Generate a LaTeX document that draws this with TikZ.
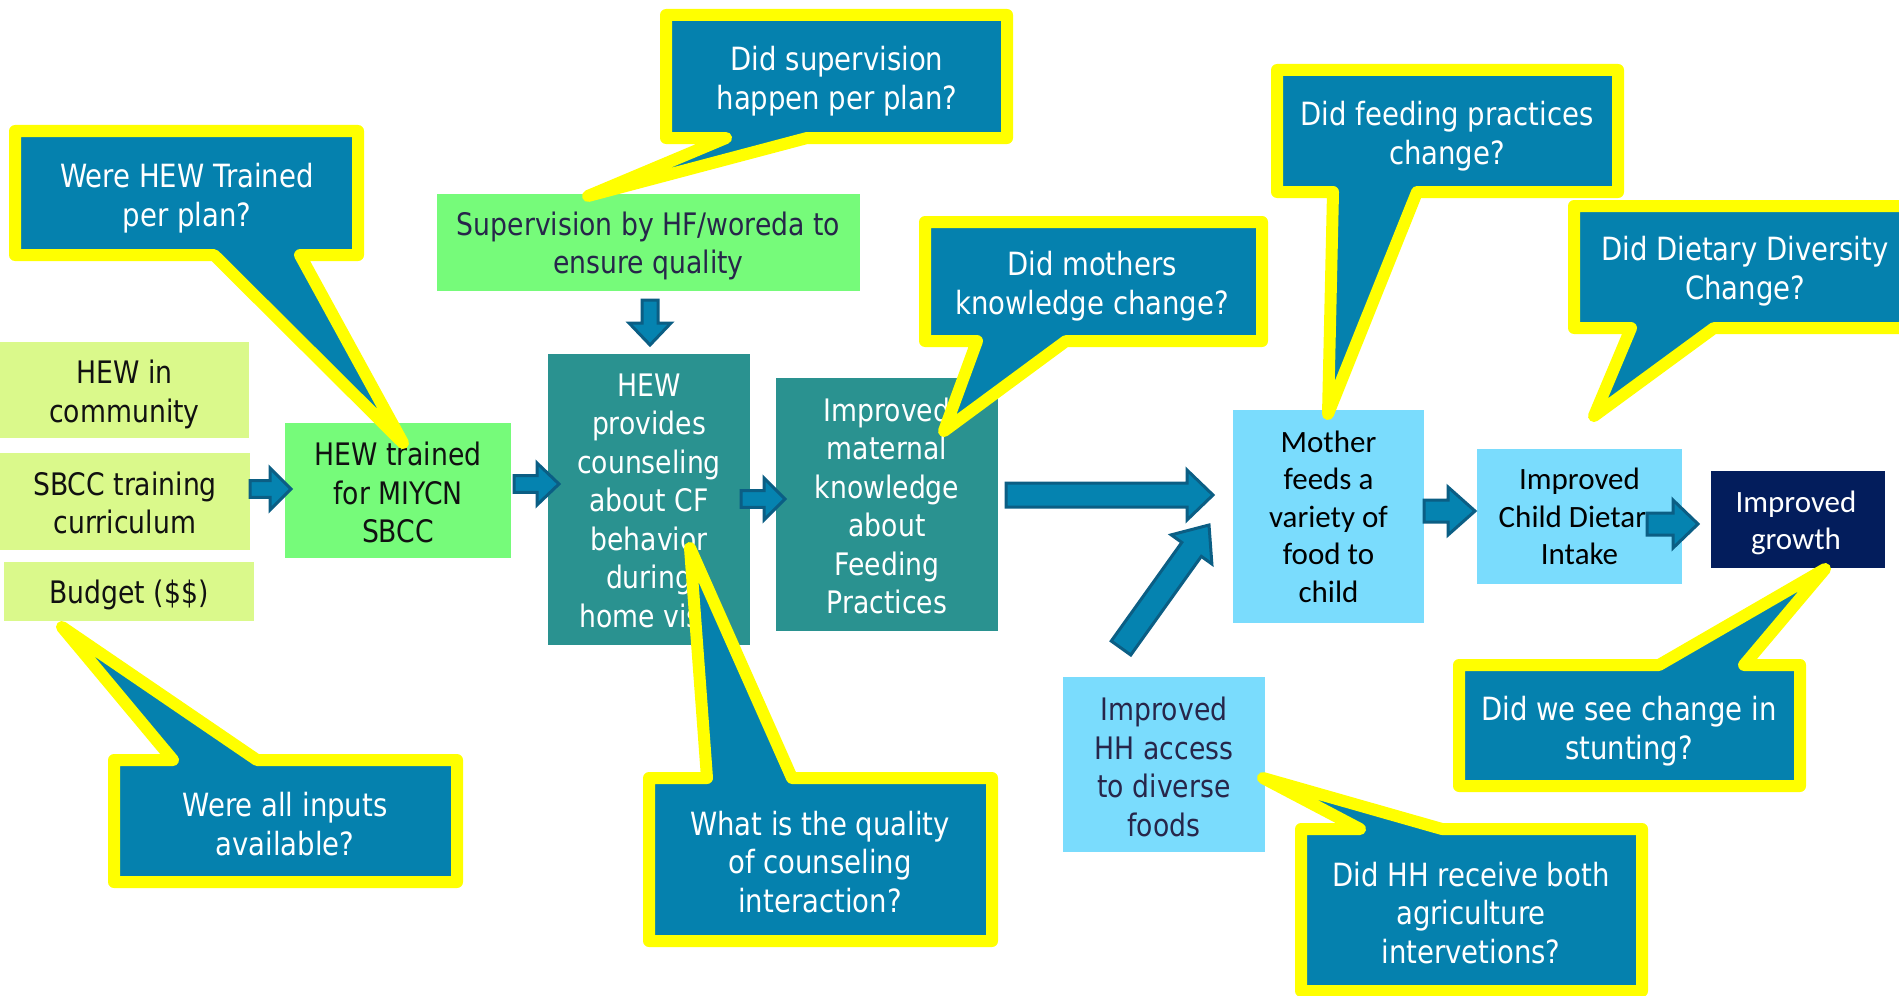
\documentclass[tikz,border=0pt]{standalone}
\usepackage{fontspec}
\setmainfont{DejaVu Sans}[FakeStretch=0.86]
\newfontfamily\calib{Carlito}
\usetikzlibrary{calc}

\definecolor{qblue}{HTML}{0581AE}
\definecolor{qyellow}{HTML}{FFFF00}
\definecolor{inputgreen}{HTML}{DAF98B}
\definecolor{actgreen}{HTML}{76FB7A}
\definecolor{outteal}{HTML}{2A9290}
\definecolor{skyblue}{HTML}{7ADCFD}
\definecolor{navybox}{HTML}{031D5C}
\definecolor{arrowfill}{HTML}{0583B0}
\definecolor{arrowline}{HTML}{0B5E84}
\definecolor{inktext}{HTML}{27264A}
\definecolor{blacktext}{HTML}{111111}

\newcommand\qfont{\fontsize{16}{19.3}\selectfont}
\newcommand\bfontt{\fontsize{15.5}{19.25}\selectfont}
\newcommand\cfont{\calib\fontsize{15.5}{18.75}\selectfont}

% block arrow from #1 to #2: shaft half-width, head half-width, head length
\newcommand\blockarrow[5]{%
  \coordinate (ba-hb) at ($(#2)!#5!(#1)$);
  \draw[blockarrow] ($(#1)!#3!90:(#2)$) -- ($(ba-hb)!#3!90:(#2)$)
    -- ($(ba-hb)!#4!90:(#2)$) -- (#2) -- ($(ba-hb)!#4!-90:(#2)$)
    -- ($(ba-hb)!#3!-90:(#2)$) -- ($(#1)!#3!-90:(#2)$) -- cycle;
}

\tikzset{
  callout/.style={fill=qblue, draw=qyellow, line width=6pt, line join=round},
  calltext/.style={text=white, align=center, font=\qfont, inner sep=0pt},
  box/.style={inner sep=0pt},
  boxtext/.style={inner sep=0pt, align=center, font=\bfontt},
  cboxtext/.style={inner sep=0pt, align=center, font=\cfont},
  blockarrow/.style={fill=arrowfill, draw=arrowline, line width=1.5pt, line join=miter},
}

\begin{document}
\begin{tikzpicture}[x=0.5pt, y=-0.5pt]
\path[use as bounding box, clip] (0,0) rectangle (1899,995);

% inputs
\node[box, fill=inputgreen, minimum width=124.5pt, minimum height=48pt,
  label={[boxtext, text=blacktext, yshift=-2.2pt]center:{HEW in\\community}}]
  (hewcom) at (124.5,390) {};
\node[box, fill=inputgreen, minimum width=125pt, minimum height=48.5pt,
  label={[boxtext, text=blacktext, yshift=-0.6pt]center:{SBCC training\\curriculum}}]
  (sbcc) at (125,501.5) {};
\node[box, fill=inputgreen, minimum width=125pt, minimum height=29.5pt,
  label={[boxtext, text=blacktext, yshift=-1.8pt]center:{Budget (\$\$)}}]
  (budget) at (129,591.5) {};

% activities
\node[box, fill=actgreen, minimum width=113pt, minimum height=67.5pt,
  label={[boxtext, text=blacktext, yshift=-1.2pt]center:{HEW trained\\for MIYCN\\SBCC}}]
  (trained) at (398,490.5) {};
\node[box, fill=actgreen, minimum width=211.5pt, minimum height=48.5pt,
  label={[boxtext, text=inktext, yshift=-1.8pt]center:{Supervision by HF/woreda to\\ensure quality}}]
  (superv) at (648.5,242.5) {};
\node[box, fill=outteal, minimum width=101pt, minimum height=145.5pt,
  label={[boxtext, text=white, yshift=-0.6pt]center:{HEW\\provides\\counseling\\about CF\\behavior\\during\\home visit}}]
  (counsel) at (649,499.5) {};
\node[box, fill=outteal, minimum width=111pt, minimum height=126.5pt,
  label={[boxtext, text=white, yshift=-0.6pt]center:{Improved\\maternal\\knowledge\\about\\Feeding\\Practices}}]
  (know) at (887,504.5) {};

% outcomes
\node[box, fill=skyblue, minimum width=95.5pt, minimum height=106.5pt,
  label={[cboxtext, text=black]center:{Mother\\feeds a\\variety of\\food to\\child}}]
  (mother) at (1328.5,516.5) {};
\node[box, fill=skyblue, minimum width=102.5pt, minimum height=67.5pt,
  label={[cboxtext, text=black]center:{Improved\\Child Dietary\\Intake}}]
  (dietary) at (1579.5,516.5) {};
\node[box, fill=navybox, minimum width=87pt, minimum height=48.5pt,
  label={[cboxtext, text=white, yshift=-1.8pt, xshift=-1pt]center:{Improved\\growth}}]
  (growth) at (1798,519.5) {};
\node[box, fill=skyblue, minimum width=101pt, minimum height=87.5pt,
  label={[boxtext, text=inktext, yshift=-1.2pt]center:{Improved\\HH access\\to diverse\\foods}}]
  (hh) at (1164,764.5) {};

% arrow end points
\coordinate (a1s) at (250,489);  \coordinate (a1e) at (291,489);
\coordinate (a2s) at (514,484);  \coordinate (a2e) at (559,484);
\coordinate (a3s) at (741,499);  \coordinate (a3e) at (785,499);
\coordinate (a4s) at (650,300);  \coordinate (a4e) at (650,345);
\coordinate (a5s) at (1006,495); \coordinate (a5e) at (1213,495);
\coordinate (a6s) at (1121,648); \coordinate (a6e) at (1209,525);
\coordinate (a7s) at (1424,511); \coordinate (a7e) at (1475,511);
\coordinate (a8s) at (1647,524); \coordinate (a8e) at (1698,524);

\blockarrow{a1s}{a1e}{4.2pt}{10.5pt}{10.5pt}
\blockarrow{a2s}{a2e}{4.2pt}{10.5pt}{11pt}
\blockarrow{a3s}{a3e}{4.2pt}{10.5pt}{10.5pt}
\blockarrow{a4s}{a4e}{4pt}{10.5pt}{11pt}
\blockarrow{a5s}{a5e}{6pt}{12.5pt}{13pt}
\blockarrow{a6s}{a6e}{6pt}{12.5pt}{15pt}
\blockarrow{a7s}{a7e}{5.5pt}{12pt}{13.5pt}
\blockarrow{a8s}{a8e}{5.5pt}{12pt}{12.5pt}

% question callouts
\path[callout] (15,131) -- (358,131) -- (358,255) -- (300,255) -- (403,443)
  -- (214,255) -- (15,255) -- cycle;
\node[calltext] (qtrain) at (187,198) {Were HEW Trained\\per plan?};

\path[callout] (666,15) -- (1007,15) -- (1007,138) -- (807,138) -- (588,196)
  -- (726,138) -- (666,138) -- cycle;
\node[calltext] (qsuperv) at (837,81) {Did supervision\\happen per plan?};

\path[callout] (649,778) -- (707,778) -- (690,548) -- (792,778) -- (992,778)
  -- (992,941) -- (649,941) -- cycle;
\node[calltext] (qquality) at (820,862) {What is the quality\\of counseling\\interaction?};

\path[callout] (925,222) -- (1262,222) -- (1262,341) -- (1066,341) -- (944,431)
  -- (977,341) -- (925,341) -- cycle;
\node[calltext] (qknow) at (1092,286) {Did mothers\\knowledge change?};

\path[callout] (1277,70) -- (1618,70) -- (1618,192) -- (1417,192) -- (1328,414)
  -- (1333,192) -- (1277,192) -- cycle;
\node[calltext] (qfeed) at (1447,136) {Did feeding practices\\change?};

\path[callout] (1574,206) -- (1930,206) -- (1930,328) -- (1714,328) -- (1594,416)
  -- (1631,328) -- (1574,328) -- cycle;
\node[calltext] (qdiet) at (1745,271) {Did Dietary Diversity\\Change?};

\path[callout] (114,760) -- (173,760) -- (62,627) -- (257,760) -- (457,760)
  -- (457,882) -- (114,882) -- cycle;
\node[calltext] (qinputs) at (285,824) {Were all inputs\\available?};

\path[callout] (1301,829) -- (1360,829) -- (1263,778) -- (1442,829) -- (1642,829)
  -- (1642,991) -- (1301,991) -- cycle;
\node[calltext] (qhh) at (1471,913) {Did HH receive both\\agriculture\\intervetions?};

\path[callout] (1459,665) -- (1659,665) -- (1825,569) -- (1744,665) -- (1800,665)
  -- (1800,786) -- (1459,786) -- cycle;
\node[calltext] (qstunt) at (1629,731) {Did we see change in\\stunting?};
\end{tikzpicture}
\end{document}
